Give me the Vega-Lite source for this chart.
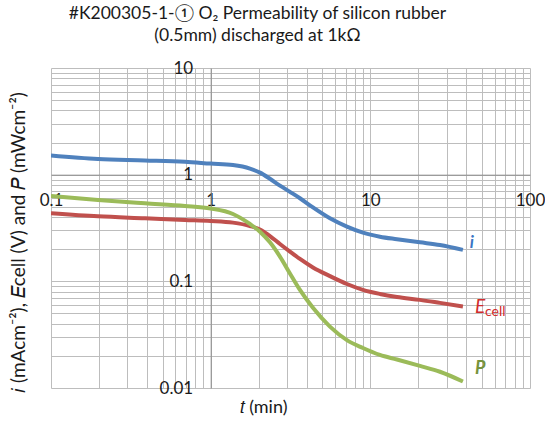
{
  "$schema": "https://vega.github.io/schema/vega-lite/v6.json",
  "width": 479,
  "height": 320,
  "autosize": {"type": "none"},
  "padding": {"left": 51, "top": 68, "right": 15, "bottom": 35},
  "background": "white",
  "title": {
    "text": ["#K200305-1-① O₂ Permeability of silicon rubber", "(0.5mm) discharged at 1kΩ"],
    "anchor": "middle",
    "fontSize": 17.5,
    "font": "Lato",
    "fontWeight": "normal",
    "color": "#1a1a1a",
    "offset": 15,
    "dx": -33,
    "lineHeight": 22
  },
  "config": {"view": {"stroke": null}},
  "datasets": {
    "curves": [
      {"t": 0.1, "v": 1.51, "s": "i"}, {"t": 0.197, "v": 1.40, "s": "i"}, {"t": 0.388, "v": 1.36, "s": "i"},
      {"t": 0.69, "v": 1.32, "s": "i"}, {"t": 1.0, "v": 1.27, "s": "i"}, {"t": 1.379, "v": 1.23, "s": "i"},
      {"t": 1.762, "v": 1.14, "s": "i"}, {"t": 2.036, "v": 1.045, "s": "i"}, {"t": 2.351, "v": 0.915, "s": "i"},
      {"t": 2.716, "v": 0.79, "s": "i"}, {"t": 3.137, "v": 0.69, "s": "i"}, {"t": 3.624, "v": 0.601, "s": "i"},
      {"t": 4.371, "v": 0.493, "s": "i"}, {"t": 5.585, "v": 0.39, "s": "i"}, {"t": 7.137, "v": 0.326, "s": "i"},
      {"t": 8.99, "v": 0.286, "s": "i"}, {"t": 11.48, "v": 0.262, "s": "i"}, {"t": 14.68, "v": 0.248, "s": "i"},
      {"t": 20.45, "v": 0.232, "s": "i"}, {"t": 27.29, "v": 0.219, "s": "i"}, {"t": 38.0, "v": 0.197, "s": "i"},
      {"t": 0.1, "v": 0.435, "s": "E"}, {"t": 0.197, "v": 0.407, "s": "E"}, {"t": 0.388, "v": 0.390, "s": "E"},
      {"t": 0.69, "v": 0.376, "s": "E"}, {"t": 1.0, "v": 0.368, "s": "E"}, {"t": 1.379, "v": 0.355, "s": "E"},
      {"t": 1.762, "v": 0.330, "s": "E"}, {"t": 2.036, "v": 0.306, "s": "E"}, {"t": 2.351, "v": 0.266, "s": "E"},
      {"t": 2.716, "v": 0.224, "s": "E"}, {"t": 3.137, "v": 0.190, "s": "E"}, {"t": 3.624, "v": 0.162, "s": "E"},
      {"t": 4.371, "v": 0.135, "s": "E"}, {"t": 5.585, "v": 0.112, "s": "E"}, {"t": 7.137, "v": 0.0944, "s": "E"},
      {"t": 8.99, "v": 0.0832, "s": "E"}, {"t": 11.48, "v": 0.0762, "s": "E"}, {"t": 14.68, "v": 0.0714, "s": "E"},
      {"t": 20.45, "v": 0.0670, "s": "E"}, {"t": 27.29, "v": 0.0628, "s": "E"}, {"t": 38.0, "v": 0.0582, "s": "E"},
      {"t": 0.1, "v": 0.631, "s": "P"}, {"t": 0.197, "v": 0.579, "s": "P"}, {"t": 0.388, "v": 0.539, "s": "P"},
      {"t": 0.69, "v": 0.509, "s": "P"}, {"t": 1.0, "v": 0.482, "s": "P"}, {"t": 1.379, "v": 0.428, "s": "P"},
      {"t": 1.762, "v": 0.345, "s": "P"}, {"t": 2.036, "v": 0.292, "s": "P"}, {"t": 2.351, "v": 0.232, "s": "P"},
      {"t": 2.716, "v": 0.1705, "s": "P"}, {"t": 3.137, "v": 0.1186, "s": "P"}, {"t": 3.624, "v": 0.083, "s": "P"},
      {"t": 4.371, "v": 0.0564, "s": "P"}, {"t": 5.585, "v": 0.0376, "s": "P"}, {"t": 7.137, "v": 0.0281, "s": "P"},
      {"t": 8.99, "v": 0.0237, "s": "P"}, {"t": 11.48, "v": 0.0204, "s": "P"}, {"t": 14.68, "v": 0.0185, "s": "P"},
      {"t": 20.45, "v": 0.0161, "s": "P"}, {"t": 27.29, "v": 0.0142, "s": "P"}, {"t": 38.0, "v": 0.0115, "s": "P"}
    ],
    "labels": [
      {"t": 42, "v": 0.23, "s": "i", "lab": "i"},
      {"t": 45.2, "v": 0.0575, "s": "E", "lab": "E"},
      {"t": 45.2, "v": 0.0575, "s": "cell", "lab": "cell"},
      {"t": 45.2, "v": 0.0151, "s": "P", "lab": "P"}
    ]
  },
  "layer": [
    {
      "data": {"name": "curves"},
      "mark": {"type": "line", "strokeWidth": 4, "interpolate": "monotone", "clip": true},
      "encoding": {
        "x": {
          "field": "t", "type": "quantitative",
          "scale": {"type": "log", "domain": [0.1, 100], "nice": false},
          "axis": {
            "values": [0.1, 0.2, 0.3, 0.4, 0.5, 0.6, 0.7, 0.8, 0.9, 1, 2, 3, 4, 5, 6, 7, 8, 9, 10, 20, 30, 40, 50, 60, 70, 80, 90, 100],
            "labelExpr": "indexof([0.1, 1, 10, 100], datum.value) >= 0 ? format(datum.value, '~g') : ''",
            "grid": true, "gridColor": "#BDBDBD", "gridWidth": 1,
            "ticks": false,
            "domainColor": "#8C8C8C", "domainWidth": 1,
            "offset": -213.3,
            "labelPadding": 18, "labelFontSize": 17, "labelFont": "Lato", "labelColor": "#1a1a1a",
            "labelFlush": false, "labelOverlap": false, "labelBound": false,
            "title": "𝑡 (min)", "titleX": 212, "titleY": 233, "titleFontSize": 18,
            "titleFont": "Lato", "titleFontWeight": "normal", "titleColor": "#1a1a1a",
            "titleAlign": "center", "titleBaseline": "middle"
          }
        },
        "y": {
          "field": "v", "type": "quantitative",
          "scale": {"type": "log", "domain": [0.01, 10], "nice": false},
          "axis": {
            "values": [0.01, 0.02, 0.03, 0.04, 0.05, 0.06, 0.07, 0.08, 0.09, 0.1, 0.2, 0.3, 0.4, 0.5, 0.6, 0.7, 0.8, 0.9, 1, 2, 3, 4, 5, 6, 7, 8, 9, 10],
            "labelExpr": "indexof([0.01, 0.1, 1, 10], datum.value) >= 0 ? format(datum.value, '~g') : ''",
            "grid": true, "gridColor": "#BDBDBD", "gridWidth": 1,
            "ticks": false,
            "domainColor": "#8C8C8C", "domainWidth": 1,
            "offset": -159.7,
            "labelPadding": 18, "labelFontSize": 17, "labelFont": "Lato", "labelColor": "#1a1a1a",
            "labelFlush": false, "labelOverlap": false, "labelBound": false,
            "title": "𝑖 (mAcm⁻²), 𝐸cell (V) and  𝑃 (mWcm⁻²)",
            "titleX": -192, "titleY": 174, "titleAngle": -90,
            "titleFontSize": 19, "titleFont": "Lato", "titleFontWeight": "normal", "titleColor": "#1a1a1a",
            "titleAlign": "center", "titleBaseline": "middle"
          }
        },
        "color": {
          "field": "s", "type": "nominal",
          "scale": {"domain": ["i", "E", "P"], "range": ["#4F81BD", "#C0504D", "#9BBB59"]},
          "legend": null
        }
      }
    },
    {
      "data": {"name": "labels"},
      "transform": [{"filter": "datum.s == 'i'"}],
      "mark": {"type": "text", "align": "left", "baseline": "middle", "font": "Lato", "fontStyle": "italic", "fontWeight": "bold", "fontSize": 17, "color": "#3A75C4"},
      "encoding": {
        "x": {"field": "t", "type": "quantitative"},
        "y": {"field": "v", "type": "quantitative"},
        "text": {"field": "lab"}
      }
    },
    {
      "data": {"name": "labels"},
      "transform": [{"filter": "datum.s == 'E'"}],
      "mark": {"type": "text", "align": "left", "baseline": "middle", "font": "Lato", "fontStyle": "italic", "fontSize": 19, "color": "#D12C2C"},
      "encoding": {
        "x": {"field": "t", "type": "quantitative"},
        "y": {"field": "v", "type": "quantitative"},
        "text": {"field": "lab"}
      }
    },
    {
      "data": {"name": "labels"},
      "transform": [{"filter": "datum.s == 'cell'"}],
      "mark": {"type": "text", "align": "left", "baseline": "middle", "font": "Lato", "fontSize": 14, "color": "#D12C2C", "dx": 10, "dy": 5},
      "encoding": {
        "x": {"field": "t", "type": "quantitative"},
        "y": {"field": "v", "type": "quantitative"},
        "text": {"field": "lab"}
      }
    },
    {
      "data": {"name": "labels"},
      "transform": [{"filter": "datum.s == 'P'"}],
      "mark": {"type": "text", "align": "left", "baseline": "middle", "font": "Lato", "fontStyle": "italic", "fontWeight": "bold", "fontSize": 18, "color": "#77933C"},
      "encoding": {
        "x": {"field": "t", "type": "quantitative"},
        "y": {"field": "v", "type": "quantitative"},
        "text": {"field": "lab"}
      }
    }
  ]
}
